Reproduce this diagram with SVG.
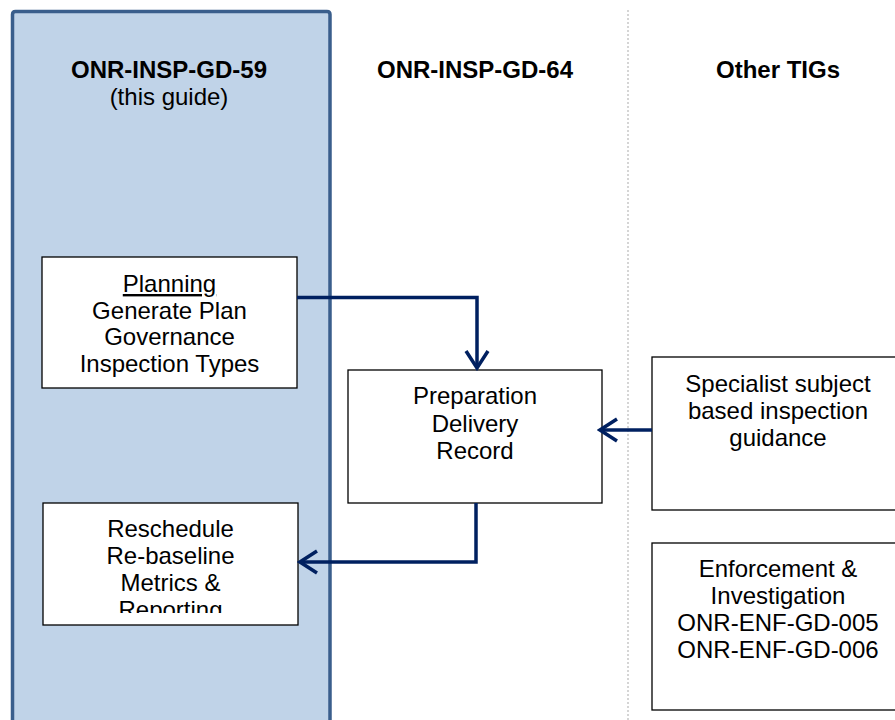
<svg xmlns="http://www.w3.org/2000/svg" width="895" height="720" viewBox="0 0 895 720">
<defs>
<style>
.t{font-family:"Liberation Sans",Arial,sans-serif;font-size:24px;fill:#000;text-anchor:middle}
.b{font-weight:bold}
.box{fill:#fff;stroke:#000;stroke-width:1.3}
.c{fill:none;stroke:#002060;stroke-width:3.5}
</style>
<marker id="ah" viewBox="0 0 22 26" refX="19" refY="13" markerWidth="22" markerHeight="26" markerUnits="userSpaceOnUse" orient="auto">
<path d="M2,2 L19,13 L2,24" fill="none" stroke="#002060" stroke-width="3.5"/>
</marker>
<clipPath id="rc"><rect x="43" y="503" width="255" height="110"/></clipPath>
</defs>
<rect width="895" height="720" fill="#fff"/>
<g id="column-gd59">
<path d="M12.5,730 L12.5,14.5 Q12.5,11.5 15.5,11.5 L327,11.5 Q330,11.5 330,14.5 L330,730" fill="#C0D3E8" stroke="#3A5E8C" stroke-width="3.5"/>
<text class="t b" x="169" y="78">ONR-INSP-GD-59</text>
<text class="t" x="169" y="105">(this guide)</text>
</g>
<g id="divider">
<line x1="628" y1="10" x2="628" y2="720" stroke="#BFBFBF" stroke-width="1.3" stroke-dasharray="2,2"/>
</g>
<g id="heading-gd64"><text class="t b" x="475" y="78">ONR-INSP-GD-64</text></g>
<g id="heading-other"><text class="t b" x="778" y="78">Other TIGs</text></g>
<g id="planning">
<rect class="box" x="42" y="257" width="255" height="131"/>
<text class="t" x="169.5" y="292" text-decoration="underline">Planning</text>
<text class="t" x="169.5" y="318.5">Generate Plan</text>
<text class="t" x="169.5" y="345">Governance</text>
<text class="t" x="169.5" y="372">Inspection Types</text>
</g>
<g id="preparation">
<rect class="box" x="348" y="370" width="254" height="133"/>
<text class="t" x="475" y="404">Preparation</text>
<text class="t" x="475" y="431.5">Delivery</text>
<text class="t" x="475" y="459">Record</text>
</g>
<g id="reschedule">
<rect class="box" x="43" y="503" width="255" height="122"/>
<g clip-path="url(#rc)">
<text class="t" x="170.5" y="537">Reschedule</text>
<text class="t" x="170.5" y="564">Re-baseline</text>
<text class="t" x="170.5" y="591">Metrics &amp;</text>
<text class="t" x="170.5" y="618">Reporting</text>
</g>
</g>
<g id="specialist">
<rect class="box" x="652" y="357" width="260" height="153"/>
<text class="t" x="778" y="392">Specialist subject</text>
<text class="t" x="778" y="419">based inspection</text>
<text class="t" x="778" y="446">guidance</text>
</g>
<g id="enforcement">
<rect class="box" x="652" y="543" width="260" height="167"/>
<text class="t" x="778" y="577">Enforcement &amp;</text>
<text class="t" x="778" y="604">Investigation</text>
<text class="t" x="778" y="631">ONR-ENF-GD-005</text>
<text class="t" x="778" y="658">ONR-ENF-GD-006</text>
</g>
<g id="connectors">
<path class="c" d="M297,297.5 L477,297.5 L477,368" marker-end="url(#ah)"/>
<path class="c" d="M652,430 L600,430" marker-end="url(#ah)"/>
<path class="c" d="M476,503 L476,562 L300,562" marker-end="url(#ah)"/>
</g>
</svg>
